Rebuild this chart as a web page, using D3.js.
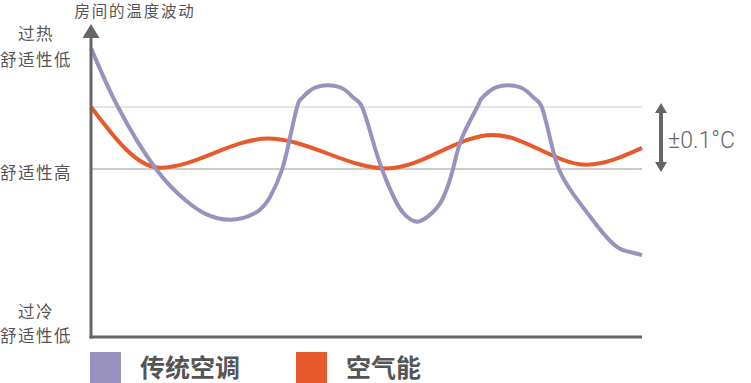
<!DOCTYPE html>
<html>
<head>
<meta charset="utf-8">
<script src="https://cdn.jsdelivr.net/npm/d3@7"></script>
<style>
  body { margin: 0; background: #fff; }
  text { font-family: "Noto Sans CJK SC", "Noto Sans", sans-serif; fill: #555; }
</style>
</head>
<body>
<svg width="751" height="383"></svg>
<script>
// time position (0-100) and temperature offset (1 unit = one band line)
var acX = [0, 4.9, 11.8, 17.1, 20.7, 25.2, 29.8, 32.5, 34.7, 36.1, 37.4, 38.1, 39.4, 40.9, 43.0, 45.1, 46.6, 47.9, 49.2, 51.0, 52.8, 55.2, 57.0, 59.2, 61.5, 63.7, 65.7, 67.3, 70.1, 70.8, 72.1, 73.6, 75.7, 77.8, 79.3, 80.6, 81.8, 83.3, 84.9, 87.5, 90.6, 92.9, 95.5, 97.8, 100];
var acY = [1.95, 1.0, 0, -0.5, -0.72, -0.82, -0.71, -0.45, 0, 0.5, 1.0, 1.13, 1.24, 1.32, 1.35, 1.32, 1.24, 1.13, 1.0, 0.5, 0, -0.5, -0.74, -0.85, -0.74, -0.5, 0, 0.5, 1.0, 1.13, 1.24, 1.32, 1.35, 1.32, 1.24, 1.13, 1.0, 0.5, 0, -0.4, -0.77, -1.03, -1.26, -1.34, -1.39];
var hpX = [0, 12.5, 32.1, 53.7, 73.0, 90.0, 100];
var hpY = [1.0, 0.02, 0.49, 0.01, 0.55, 0.07, 0.34];
var bandLines = [1, 0];
var sideLabels = [["过热", "舒适性低"], ["舒适性高"], ["过冷", "舒适性低"]];
var legendNames = ["传统空调", "空气能"];
var colors = ["#9992bf", "#e65a2b"];

var svg = d3.select("svg");
var x = d3.scaleLinear().domain([0, 100]).range([91, 642]);
var y = d3.scaleLinear().domain([-2.71, 0, 1]).range([337, 169, 107]);

// band lines
svg.selectAll(".band").data(bandLines).enter().append("line")
  .attr("x1", x(0)).attr("x2", x(100))
  .attr("y1", function(d) { return y(d); }).attr("y2", function(d) { return y(d); })
  .attr("stroke", function(d) { return d == 0 ? "#999" : "#ccc"; })
  .attr("stroke-width", 1);

var line = d3.line().curve(d3.curveMonotoneX)
  .x(function(d) { return x(d[0]); })
  .y(function(d) { return y(d[1]); });
var smooth = d3.line().curve(d3.curveNatural)
  .x(function(d) { return x(d[0]); })
  .y(function(d) { return y(d[1]); });

svg.append("path")
  .datum(hpX.map(function(v, i) { return [v, hpY[i]]; }))
  .attr("d", line).attr("fill", "none")
  .attr("stroke", colors[1]).attr("stroke-width", 4);

svg.append("path")
  .datum(acX.map(function(v, i) { return [v, acY[i]]; }))
  .attr("d", smooth).attr("fill", "none")
  .attr("stroke", colors[0]).attr("stroke-width", 4);

// axes
svg.append("line").attr("x1", x(0)).attr("x2", x(0)).attr("y1", 36).attr("y2", 338.5)
  .attr("stroke", "#666").attr("stroke-width", 3);
svg.append("line").attr("x1", x(0) - 1.5).attr("x2", x(100)).attr("y1", 337).attr("y2", 337)
  .attr("stroke", "#666").attr("stroke-width", 3);
svg.append("path").attr("d", "M" + (x(0) - 8.5) + ",38L" + x(0) + ",24L" + (x(0) + 8.5) + ",38Z")
  .attr("fill", "#666");

svg.append("text").attr("x", 135).attr("y", 17).attr("text-anchor", "middle")
  .style("font-size", "15.5px").style("letter-spacing", "1.8px").text("房间的温度波动");

// side labels
var labelY = [[34, 60], [173], [312, 336]];
sideLabels.forEach(function(lines, i) {
  lines.forEach(function(t, j) {
    svg.append("text").attr("x", 36).attr("y", labelY[i][j]).attr("dy", "0.35em")
      .attr("text-anchor", "middle").style("font-size", "16.5px").style("letter-spacing", "1.5px")
      .text(t);
  });
});

// ±0.1°C arrow
var ax = 661;
svg.append("line").attr("x1", ax).attr("x2", ax).attr("y1", 110).attr("y2", 165)
  .attr("stroke", "#666").attr("stroke-width", 4);
svg.append("path").attr("d", "M" + (ax - 6) + ",113L" + ax + ",103L" + (ax + 6) + ",113Z").attr("fill", "#666");
svg.append("path").attr("d", "M" + (ax - 6) + ",162L" + ax + ",172L" + (ax + 6) + ",162Z").attr("fill", "#666");
svg.append("text").attr("x", 668).attr("y", 148)
  .style("font-family", "Roboto, 'Open Sans', sans-serif").style("font-weight", 300)
  .style("font-size", "23px").style("fill", "#666").text("±0.1°C");

// legend
var legend = svg.selectAll(".legend").data(legendNames).enter().append("g")
  .attr("transform", function(d, i) { return "translate(" + (90 + i * 206) + ",352)"; });
legend.append("rect").attr("width", 31).attr("height", 31)
  .attr("fill", function(d, i) { return colors[i]; });
legend.append("text").attr("x", 50).attr("y", 16).attr("dy", "0.36em")
  .style("font-size", "25px").style("font-weight", "bold").style("fill", "#555")
  .text(function(d) { return d; });
</script>
</body>
</html>
